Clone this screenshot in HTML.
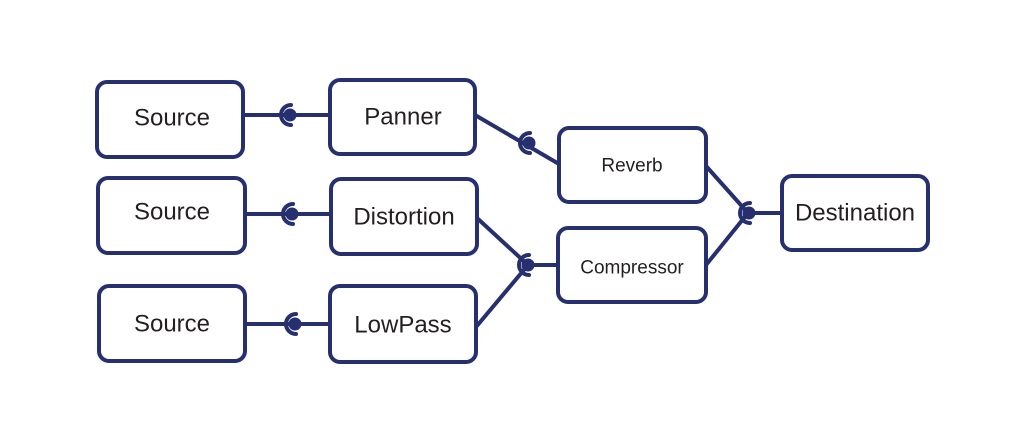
<!DOCTYPE html>
<html><head><meta charset="utf-8"><style>
html,body{margin:0;padding:0;background:#fff;width:1024px;height:440px;overflow:hidden}
svg text{font-family:"Liberation Sans",sans-serif;fill:#231f20;text-anchor:middle;dominant-baseline:central}
</style></head><body>
<svg width="1024" height="440" viewBox="0 0 1024 440">
<defs>
<g id="sock"><circle r="6.5" fill="#27306f"/><path d="M 1 -10 A 10 10 0 1 0 1 10" fill="none" stroke="#27306f" stroke-width="4" stroke-linecap="round"/></g>
</defs>
<g fill="none" stroke="#27306f" stroke-width="4">
<rect x="97" y="82" width="146" height="75" rx="10"/>
<rect x="98" y="178" width="147" height="75" rx="10"/>
<rect x="99" y="286" width="146" height="75" rx="10"/>
<rect x="330" y="80" width="145" height="74" rx="10"/>
<rect x="331" y="179" width="146" height="75" rx="10"/>
<rect x="330" y="286" width="146" height="76" rx="10"/>
<rect x="559" y="128" width="147" height="74" rx="10"/>
<rect x="558" y="228" width="148" height="74" rx="10"/>
<rect x="782" y="176" width="146" height="74" rx="10"/>
<line x1="243" y1="115" x2="330" y2="115"/>
<line x1="245" y1="214" x2="331" y2="214"/>
<line x1="245" y1="324" x2="330" y2="324"/>
<line x1="475" y1="115" x2="559" y2="164"/>
<line x1="477" y1="218" x2="528" y2="265"/>
<line x1="476" y1="327" x2="528" y2="265"/>
<line x1="528" y1="265" x2="558" y2="265"/>
<line x1="706" y1="166" x2="748" y2="213"/>
<line x1="706" y1="265" x2="748" y2="213"/>
<line x1="748" y1="213" x2="782" y2="213"/>
</g>
<use href="#sock" x="290" y="115"/>
<use href="#sock" x="292" y="214"/>
<use href="#sock" x="295" y="324"/>
<use href="#sock" x="529" y="143"/>
<use href="#sock" x="528" y="265"/>
<use href="#sock" x="749" y="213"/>
<text x="172" y="118" font-size="24">Source</text>
<text x="172" y="212" font-size="24">Source</text>
<text x="172" y="324" font-size="24">Source</text>
<text x="403" y="117" font-size="24">Panner</text>
<text x="404" y="217" font-size="24">Distortion</text>
<text x="403" y="325" font-size="24">LowPass</text>
<text x="632" y="166" font-size="19">Reverb</text>
<text x="632" y="268" font-size="19">Compressor</text>
<text x="855" y="213" font-size="24">Destination</text>
</svg>
</body></html>
